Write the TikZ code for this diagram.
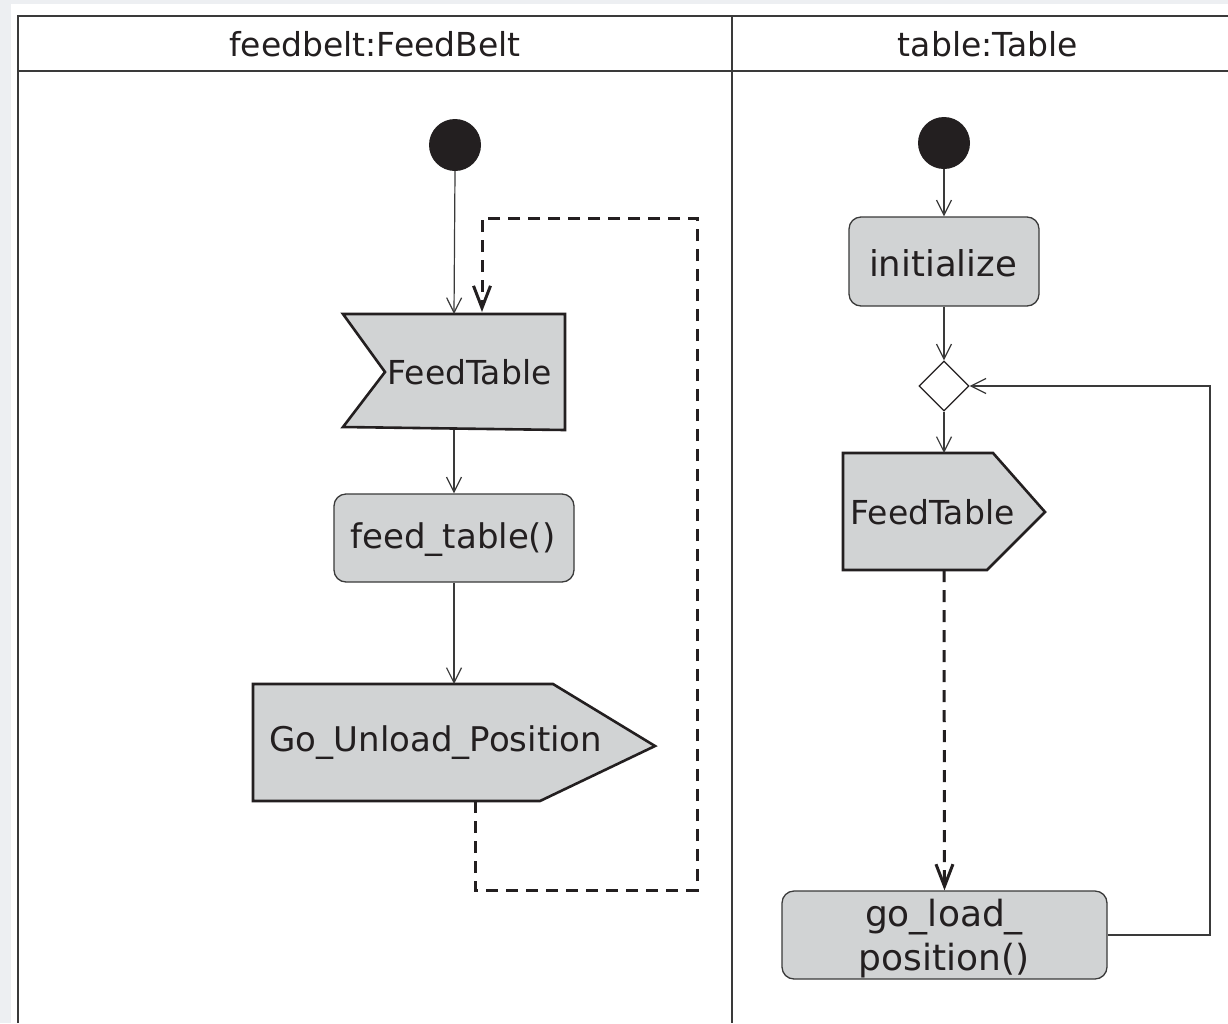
\documentclass[tikz,border=0pt]{standalone}
\usepackage{fontspec}
\setmainfont{DejaVu Sans}
\usetikzlibrary{arrows.meta,shapes.geometric}
\definecolor{bgray}{HTML}{EDEFF2}
\definecolor{fillg}{HTML}{D1D3D4}
\definecolor{ink}{HTML}{231F20}
\definecolor{lin}{HTML}{3A3A3A}
\tikzset{
  body/.style={font=\fontsize{34}{38}\selectfont, text=ink},
  head/.style={font=\fontsize{33}{36}\selectfont, text=ink},
  action/.style={draw=lin, line width=1.3pt, fill=fillg, rounded corners=12pt},
  sig/.style={draw=ink, line width=2.6pt, fill=fillg, line join=miter},
  flow/.style={draw=lin, line width=1.2pt, -{Straight Barb[length=15pt,width=15pt]}},
  oflow/.style={draw=ink, line width=3pt, dash pattern=on 12pt off 8pt, -{Straight Barb[length=22pt,width=17pt]}},
  start/.style={circle, fill=ink, minimum size=52pt, inner sep=0pt},
  merge/.style={diamond, draw=ink, line width=1.3pt, fill=white, minimum width=50pt, minimum height=50pt, inner sep=0pt}
}
\begin{document}
\begin{tikzpicture}[x=1pt,y=-1pt]
\useasboundingbox (0,0) rectangle (1228,1023);
\fill[bgray] (0,0) rectangle (1228,1023);
\fill[white] (11,4) rectangle (1228,1023);
% frame
\draw[lin, line width=1.6pt] (18,1023) -- (18,16) -- (1228,16);
\draw[lin, line width=1.6pt] (18,71) -- (1228,71);
\draw[lin, line width=1.6pt] (732,16) -- (732,1023);
\node[head] (h1) at (375,44) {feedbelt:FeedBelt};
\node[head] (h2) at (988,44) {table:Table};

% ---------- left lane
\node[start] (s1) at (455,145) {};
\draw[sig] (343,314) -- (565,314) -- (565,430) -- (343,427) -- (385,372) -- cycle;
\node[body, anchor=west, font=\fontsize{33}{38}\selectfont] (ft1) at (384,372) {FeedTable};
\coordinate (ft1top) at (454,314);
\coordinate (ft1in) at (482,312);
\coordinate (ft1bot) at (454,430);
\node[action, minimum width=240pt, minimum height=88pt] (fd) at (454,538) {};
\node[body] (fdt) at (453,540) {feed\_table()};
\draw[sig] (253,684) -- (553,684) -- (655,746) -- (540,801) -- (253,801) -- cycle;
\node[body, anchor=west] (gu) at (266,743) {Go\_Unload\_Position};
\coordinate (gutop) at (454,684);
\coordinate (guout) at (475,801);
\coordinate (c1) at (475,890);
\coordinate (c2) at (697,890);
\coordinate (c3) at (697,218);
\coordinate (c4) at (482,218);

\draw[flow] (s1.south) -- (ft1top);
\draw[flow] (ft1bot) -- (fd.north);
\draw[flow] (fd.south) -- (gutop);
\draw[oflow] (guout) -- (c1) -- (c2) -- (c3) -- (c4) -- (ft1in);

% ---------- right lane
\node[start] (s2) at (944,143) {};
\node[action, minimum width=190pt, minimum height=89pt] (init) at (944,261.5) {};
\node[body, font=\fontsize{35.5}{40}\selectfont] (initt) at (943,263) {initialize};
\node[merge] (m) at (944,386) {};
\draw[sig] (843,453) -- (993,453) -- (1045,512) -- (987,570) -- (843,570) -- cycle;
\node[body, anchor=west, font=\fontsize{33}{38}\selectfont] (ft2) at (847,512) {FeedTable};
\coordinate (ft2top) at (944,453);
\coordinate (ft2bot) at (944,570);
\node[action, minimum width=325pt, minimum height=88pt] (gl) at (944.5,935) {};
\node[body, align=center, font=\fontsize{36}{44}\selectfont] (glt) at (944,939) {go\_load\_\\position()};
\coordinate (r1) at (1210,935);
\coordinate (r2) at (1210,386);

\draw[flow] (s2.south) -- (init.north);
\draw[flow] (init.south) -- (m.north);
\draw[flow] (m.south) -- (ft2top);
\draw[oflow] (ft2bot) -- (gl.north);
\draw[flow] (gl.east) -- (r1) -- (r2) -- (m.east);
\end{tikzpicture}
\end{document}
